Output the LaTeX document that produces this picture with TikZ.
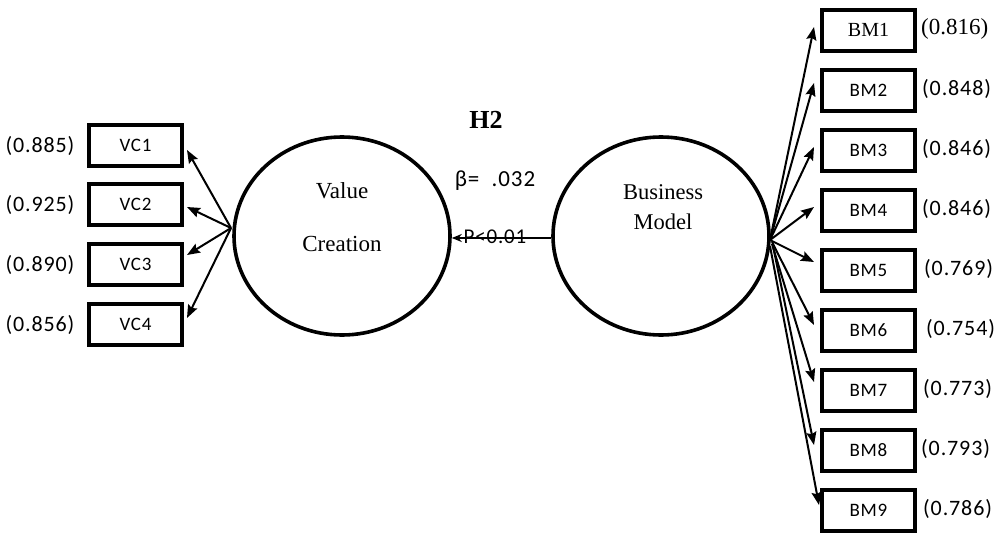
\documentclass[tikz,border=0pt]{standalone}
\usepackage{fontspec}
\setmainfont{Liberation Serif}
\newfontfamily\carl{Carlito}[LetterSpace=4]
\usetikzlibrary{shapes.geometric,arrows.meta,calc}
\begin{document}
\begin{tikzpicture}[x=1pt,y=-1pt,
  ind/.style={draw,line width=4pt,minimum width=93pt,minimum height=41pt,inner sep=0pt,font=\carl\fontsize{19}{19}\selectfont},
  indser/.style={ind,font=\fontsize{20}{20}\selectfont},
  lat/.style={draw,ellipse,line width=3.6pt,minimum width=216pt,minimum height=198pt,inner sep=0pt},
  ld/.style={font=\carl\fontsize{22}{22}\selectfont,inner sep=0pt},
  ldser/.style={font=\fontsize{23}{23}\selectfont,inner sep=0pt},
  arr/.style={-{Stealth[length=13pt,width=10pt,inset=2pt]},line width=2pt},
  lbl/.style={inner sep=0pt}]
\useasboundingbox (0,0) rectangle (999,533);
% latent variables
\node[lat] (vc) at (342,236) {};
\node[lat] (bm) at (661,236) {};
\node[lbl,font=\fontsize{23}{23}\selectfont] (vct1) at (342,191) {Value};
\node[lbl,font=\fontsize{23}{23}\selectfont] (vct2) at (342,244) {Creation};
\node[lbl,font=\fontsize{22.5}{22.5}\selectfont] (bmt1) at (663,192) {Business};
\node[lbl,font=\fontsize{22.5}{22.5}\selectfont] (bmt2) at (663,222) {Model};
% VC indicators
\node[ind] (VC1) at (135.5,145) {VC1};
\node[ind] (VC2) at (135.5,204) {VC2};
\node[ind] (VC3) at (135.5,264) {VC3};
\node[ind] (VC4) at (135.5,324) {VC4};
\node[ld] (lv1) at (40,146) {(0.885)};
\node[ld] (lv2) at (40,205) {(0.925)};
\node[ld] (lv3) at (40,265) {(0.890)};
\node[ld] (lv4) at (40,325) {(0.856)};
% BM indicators
\node[indser] (BM1) at (868.5,30) {BM1};
\node[ind] (BM2) at (868.5,90) {BM2};
\node[ind] (BM3) at (868.5,150) {BM3};
\node[ind] (BM4) at (868.5,210) {BM4};
\node[ind] (BM5) at (868.5,270) {BM5};
\node[ind] (BM6) at (868.5,330) {BM6};
\node[ind] (BM7) at (868.5,390) {BM7};
\node[ind] (BM8) at (868.5,450) {BM8};
\node[ind] (BM9) at (868.5,510) {BM9};
\node[ldser,anchor=west] (lb1) at (921,29) {(0.816)};
\node[ld,anchor=west] (lb2) at (922,89) {(0.848)};
\node[ld,anchor=west] (lb3) at (922,149) {(0.846)};
\node[ld,anchor=west] (lb4) at (922,209) {(0.846)};
\node[ld,anchor=west] (lb5) at (924,269) {(0.769)};
\node[ld,anchor=west] (lb6) at (926,329) {(0.754)};
\node[ld,anchor=west] (lb7) at (923,389) {(0.773)};
\node[ld,anchor=west] (lb8) at (921,449) {(0.793)};
\node[ld,anchor=west] (lb9) at (923,509) {(0.786)};
% path labels
\node[lbl,font=\bfseries\fontsize{26}{26}\selectfont] (h2) at (486,120) {H2};
\node[lbl,font=\carl\fontsize{23}{23}\selectfont] (beta) at (495,181) {β=\ \ .032};
\node[lbl,font=\carl\fontsize{21}{21}\selectfont] (pv) at (495,237) {P<0.01};
% connectors
\coordinate (vcs) at (231,228);
\coordinate (bms) at (770,240);
\draw[arr] (vcs) -- ($(VC1.east)+(3,5)$);
\draw[arr] (vcs) -- ($(VC2.east)+(3,3)$);
\draw[arr] (vcs) -- ($(VC3.east)+(3,-9)$);
\draw[arr] (vcs) -- ($(VC4.east)+(3,-6)$);
\draw[arr] (bms) -- ($(BM1.west)+(-6,-3)$);
\draw[arr] (bms) -- ($(BM2.west)+(-6,-7)$);
\draw[arr] (bms) -- ($(BM3.west)+(-6,-3)$);
\draw[arr] (bms) -- ($(BM4.west)+(-6,-3)$);
\draw[arr] (bms) -- ($(BM5.west)+(-6,-8)$);
\draw[arr] ($(bms)+(2,2)$) -- ($(BM6.west)+(-6,-5)$);
\draw[arr] ($(bms)+(2,4)$) -- ($(BM7.west)+(-6,-8)$);
\draw[arr] ($(bms)+(3,6)$) -- ($(BM8.west)+(-6,-5)$);
\draw[arr] ($(bms)+(0,6)$) -- ($(BM9.west)+(-1,-5)$);
\draw[arr,-{Stealth[length=10pt,width=8pt]},line width=1.8pt] ($(bm.west)+(0,2)$) -- ($(vc.east)+(0,2)$);
\end{tikzpicture}
\end{document}
